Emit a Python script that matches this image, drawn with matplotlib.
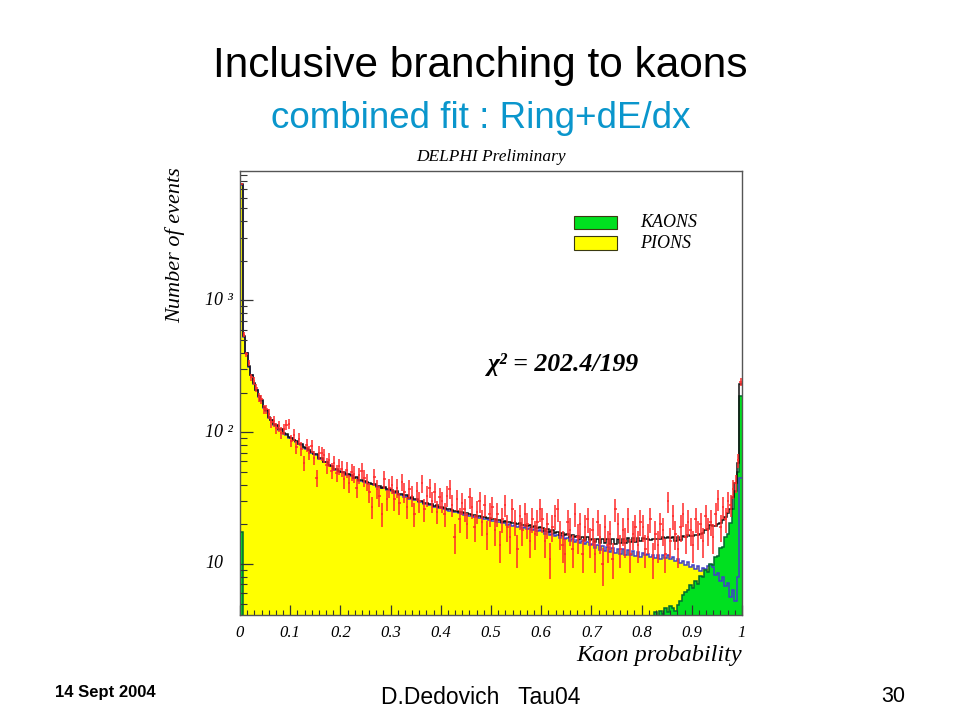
"""DELPHI kaon-probability fit slide: pion and kaon templates against data."""

import matplotlib

matplotlib.use("Agg")
import matplotlib.pyplot as plt
import matplotlib.transforms as mtransforms
from matplotlib.patches import Rectangle
from matplotlib.ticker import FixedLocator, LogLocator, NullFormatter
import numpy as np


# 200 bins of kaon probability, 0 .. 1
BIN_EDGES = np.linspace(0.0, 1.0, 201)

# fitted pion template (yellow), one row per 0.1 in kaon probability
PIONS = [
    7582, 530, 399, 314, 270, 233, 209, 185, 173, 153, 146, 129, 123, 114, 112, 104, 104, 97, 96, 91,
    90, 87, 85, 81, 80, 76, 75, 73, 70, 68, 67, 63, 63, 59, 59, 56, 55, 52, 52, 50,
    49.5, 49.0, 47.5, 47.2, 46.5, 44.6, 44.8, 43.0, 42.6, 41.9, 41.3, 40.6, 40.1, 39.8, 38.7, 38.5, 37.4, 37.6, 36.5, 36.4,
    35.9, 34.6, 35.1, 33.5, 33.6, 32.5, 32.7, 31.3, 31.6, 30.4, 30.5, 29.3, 29.6, 28.5, 28.6, 27.8, 27.9, 26.9, 27.3, 26.4,
    26.6, 26.0, 25.7, 25.4, 25.3, 24.8, 24.7, 24.3, 24.1, 23.6, 23.5, 23.1, 23.0, 22.7, 22.6, 22.3, 22.2, 21.9, 21.8, 21.5,
    21.2, 21.1, 20.7, 20.8, 20.3, 20.5, 19.9, 20.1, 19.5, 19.8, 19.2, 19.5, 18.8, 19.1, 18.5, 18.8, 18.1, 18.4, 17.8, 18.1,
    17.9, 17.0, 17.5, 16.6, 17.0, 16.2, 16.6, 15.7, 16.2, 15.5, 15.8, 15.0, 15.5, 14.7, 15.2, 14.4, 14.9, 14.1, 14.6, 13.9,
    14.3, 13.3, 13.9, 12.8, 13.7, 12.6, 13.5, 12.3, 13.3, 12.1, 13.1, 12.0, 12.9, 11.7, 12.8, 11.6, 12.6, 11.5, 12.3, 11.3,
    12.2, 11.6, 12.0, 11.3, 11.8, 11.1, 11.6, 11.0, 11.8, 11.1, 11.6, 10.9, 11.3, 10.5, 11.0, 10.1, 10.6, 9.8, 10.3, 9.5,
    9.8, 9.2, 9.6, 8.9, 9.4, 9.1, 9.6, 9.9, 9.5, 8.2, 8.6, 7.4, 7.9, 6.8, 7.2, 5.6, 6.3, 5.2, 8.0, 45.0,
]

# fitted kaon template (green)
KAONS = [
    17.6, 3.0, 2.6, 2.3, 2.1, 1.9, 1.8, 1.7, 1.6, 1.5, 1.4, 1.4, 1.3, 1.3, 1.2, 1.2, 1.2, 1.1, 1.1, 1.1,
    1.0, 1.0, 1.0, 1.0, 1.0, 1.0, 0.9, 0.9, 0.9, 0.9, 0.9, 0.9, 0.9, 0.8, 0.8, 0.8, 0.8, 0.8, 0.8, 0.8,
    0.8, 0.8, 0.7, 0.7, 0.7, 0.7, 0.7, 0.7, 0.7, 0.7, 0.6, 0.6, 0.6, 0.6, 0.6, 0.6, 0.6, 0.6, 0.6, 0.6,
    0.6, 0.6, 0.6, 0.6, 0.6, 0.6, 0.6, 0.6, 0.6, 0.6, 0.6, 0.6, 0.6, 0.6, 0.6, 0.6, 0.6, 0.6, 0.6, 0.6,
    0.6, 0.6, 0.6, 0.6, 0.6, 0.6, 0.6, 0.6, 0.6, 0.6, 0.7, 0.7, 0.7, 0.7, 0.7, 0.7, 0.7, 0.7, 0.7, 0.7,
    0.7, 0.7, 0.7, 0.7, 0.7, 0.8, 0.8, 0.8, 0.8, 0.8, 0.8, 0.8, 0.8, 0.8, 0.9, 0.9, 0.9, 0.9, 0.9, 0.9,
    0.9, 0.9, 0.9, 1.0, 1.0, 1.0, 1.0, 1.0, 1.1, 1.1, 1.1, 1.1, 1.1, 1.2, 1.2, 1.2, 1.2, 1.2, 1.3, 1.3,
    1.3, 1.4, 1.5, 1.6, 1.7, 1.8, 1.9, 2.0, 2.1, 2.2, 2.4, 2.5, 2.6, 2.8, 2.9, 3.0, 3.2, 3.3, 3.5, 3.6,
    3.5, 3.9, 3.6, 4.0, 3.8, 4.3, 3.9, 4.4, 4.2, 4.6, 4.3, 4.8, 4.6, 4.4, 4.9, 5.2, 5.8, 6.1, 6.4, 6.9,
    6.6, 7.4, 7.1, 8.1, 7.9, 9.0, 8.7, 10.0, 9.8, 11.3, 11.4, 13.2, 13.5, 16.0, 17.0, 20.5, 26.0, 36.0, 50.0, 187.0,
]

# measured events per bin (red points)
DATA = [
    7650, 548, 389, 335, 262, 245, 218, 184, 178, 150, 149, 138, 119, 121, 108, 111, 99, 106, 114, 116,
    86, 96, 77, 89, 75, 58, 80, 70, 78, 64, 45, 70, 69, 67, 56, 62, 51, 58, 49, 55,
    53, 44, 52, 41, 50, 48, 38, 47, 51, 45, 42, 35, 27, 46, 37, 33, 24, 44, 31, 38,
    40, 31, 38, 29, 42, 35, 27, 37, 33, 24, 36, 30, 41, 26, 33, 38, 30, 35, 25, 32,
    30, 24, 33, 37, 28, 16, 31, 22, 29, 26, 20, 32, 27, 19, 25, 30, 21, 28, 17, 24,
    27, 18, 24, 14, 22, 28, 19, 16, 26, 21, 13, 23, 18, 24, 20, 15, 22, 17, 21, 26,
    22, 15, 20, 11, 19, 23, 26, 17, 14, 12, 21, 18, 13, 24, 16, 20, 12, 19, 22, 15,
    18, 12, 21, 16, 10, 19, 14, 17, 11, 26, 20, 13, 18, 15, 22, 12, 17, 19, 14, 21,
    19, 13, 16, 22, 11, 17, 14, 20, 18, 12, 30, 15, 23, 17, 13, 19, 24, 16, 21, 18,
    14, 22, 17, 20, 15, 23, 18, 21, 16, 24, 31, 19, 27, 22, 30, 28, 37, 41, 61, 241,
]

X_TICKS = [0.0, 0.1, 0.2, 0.3, 0.4, 0.5, 0.6, 0.7, 0.8, 0.9, 1.0]
X_TICK_LABELS = ["0", "0.1", "0.2", "0.3", "0.4", "0.5", "0.6", "0.7", "0.8", "0.9", "1"]
Y_TICKS = [10, 100, 1000]
Y_TICK_LABELS = ["10", "10 \u00b2", "10 \u00b3"]

YELLOW = "#ffff00"
GREEN = "#00e020"
PION_LINE = "#4040c8"
KAON_LINE = "#006a30"
DATA_RED = "#ff2a2a"
SERIF = "Liberation Serif"
SANS = "Liberation Sans"

W, H = 960, 720


def _fig(x_px, y_px):
    return x_px / W, 1 - y_px / H


def main() -> None:
    pions = np.array(PIONS, dtype=float)
    kaons = np.array(KAONS, dtype=float)
    data = np.array(DATA, dtype=float)
    total = pions + kaons
    centres = 0.5 * (BIN_EDGES[:-1] + BIN_EDGES[1:])

    figure = plt.figure(figsize=(W / 100, H / 100), dpi=100)
    axis = figure.add_axes([240 / W, 105 / H, 502 / W, 444 / H])
    axis.set_yscale("log")

    axis.stairs(pions, BIN_EDGES, fill=True, color=YELLOW, baseline=1e-2, lw=0)
    axis.stairs(kaons, BIN_EDGES, fill=True, color=GREEN, baseline=1e-2, lw=0)
    axis.stairs(pions, BIN_EDGES, color=PION_LINE, lw=1.1, baseline=None)
    axis.stairs(kaons, BIN_EDGES, color=KAON_LINE, lw=1.1, baseline=None)
    axis.stairs(total, BIN_EDGES, color="#111111", lw=1.1, baseline=None)
    axis.errorbar(
        centres, data, yerr=np.sqrt(data), xerr=0.0025,
        fmt="none", ecolor=DATA_RED, elinewidth=1.1, capsize=0,
    )

    axis.set_xlim(0, 1)
    axis.set_ylim(4.1, 9600)
    for spine in axis.spines.values():
        spine.set_color("#555555")
        spine.set_linewidth(1.0)

    axis.xaxis.set_major_locator(FixedLocator(X_TICKS))
    axis.xaxis.set_minor_locator(FixedLocator(np.arange(71) / 70))
    axis.set_xticklabels(X_TICK_LABELS, fontfamily=SERIF, fontstyle="italic", fontsize=12)
    axis.tick_params(axis="x", which="major", direction="in", length=7, width=0.9,
                     color="#333333", pad=7, top=False)
    axis.tick_params(axis="x", which="minor", direction="in", length=3.6, width=0.8,
                     color="#333333", top=False)

    axis.yaxis.set_major_locator(FixedLocator(Y_TICKS))
    axis.yaxis.set_minor_locator(LogLocator(base=10, subs=range(2, 10)))
    axis.yaxis.set_major_formatter(NullFormatter())
    axis.yaxis.set_minor_formatter(NullFormatter())
    axis.tick_params(axis="y", which="major", direction="in", length=9.5, width=0.9,
                     color="#333333", right=False)
    axis.tick_params(axis="y", which="minor", direction="in", length=4.7, width=0.8,
                     color="#333333", right=False)
    label_transform = mtransforms.blended_transform_factory(figure.transFigure, axis.transData)
    for value, label in zip(Y_TICKS, Y_TICK_LABELS):
        figure.text(205 / W, value, label, transform=label_transform, ha="left", va="center",
                    fontfamily=SERIF, fontstyle="italic", fontsize=13)

    # ROOT-style captions inside the pad
    figure.text(*_fig(491, 157), "DELPHI Preliminary", ha="center", va="center",
                fontfamily=SERIF, fontstyle="italic", fontsize=12.5)
    figure.text(*_fig(175, 245), "Number of events", rotation=90, ha="center", va="center",
                fontfamily=SERIF, fontstyle="italic", fontsize=16)
    figure.text(*_fig(742, 655), "Kaon probability", ha="right", va="center",
                fontfamily=SERIF, fontstyle="italic", fontsize=17.5)
    figure.text(*_fig(488, 365), "\u03c7\u00b2 = 202.4/199", ha="left", va="center",
                fontfamily=SERIF, fontstyle="italic", fontweight="bold", fontsize=18.5)

    for y_px, colour, name in ((222.5, GREEN, "KAONS"), (243, YELLOW, "PIONS")):
        x0, y0 = _fig(574, y_px + 6.5)
        figure.patches.append(Rectangle((x0, y0), 43 / W, 13 / H, transform=figure.transFigure,
                                        facecolor=colour, edgecolor="#3a3a10", lw=0.8))
        figure.text(*_fig(640, y_px), name, ha="left", va="center",
                    fontfamily=SERIF, fontstyle="italic", fontsize=13)

    # slide texts
    figure.text(*_fig(480, 66), "Inclusive branching to kaons", ha="center", va="center",
                fontfamily=SANS, fontsize=30.5, color="black")
    figure.text(*_fig(481, 119), "combined fit : Ring+dE/dx", ha="center", va="center",
                fontfamily=SANS, fontsize=26.5, color="#0a96cc")
    figure.text(*_fig(55, 692), "14 Sept 2004", ha="left", va="center",
                fontfamily=SANS, fontweight="bold", fontsize=12)
    figure.text(*_fig(481, 697), "D.Dedovich   Tau04", ha="center", va="center",
                fontfamily=SANS, fontsize=16.5)
    figure.text(*_fig(905, 697), "30", ha="right", va="center",
                fontfamily=SANS, fontsize=15.5)

    figure.savefig("out.png", dpi=100)
    plt.close(figure)


if __name__ == "__main__":
    main()
